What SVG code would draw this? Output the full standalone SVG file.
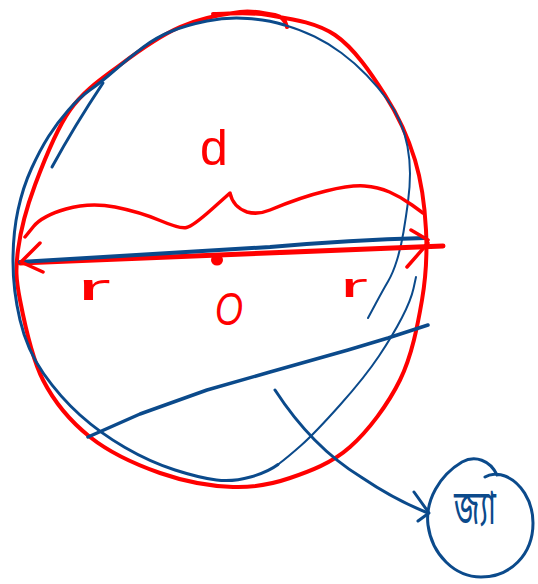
<svg xmlns="http://www.w3.org/2000/svg" width="538" height="584" viewBox="0 0 538 584">
<style>
.r{fill:none;stroke:#ff0000;stroke-linecap:round;stroke-linejoin:round}
.b{fill:none;stroke:#0b4a8b;stroke-linecap:round;stroke-linejoin:round}
.lbl{fill:#ff0000;font-family:"Liberation Sans",Arial,sans-serif}
.bn{fill:#0b4a8b;font-family:"Noto Sans Bengali","Noto Sans","DejaVu Sans",sans-serif}
</style>
<rect width="538" height="584" fill="#ffffff"/>
<g id="circle">
<path class="r" stroke-width="4" d="M213,14 C231,14 247.7,11.5 268,15 C288.3,18.5 315.5,21.7 335,35 C354.5,48.3 371.7,74.2 385,95 C398.3,115.8 408.2,137.5 415,160 C421.8,182.5 424.8,206.7 426,230 C427.2,253.3 426.3,275 422,300 C417.7,325 412,355.5 400,380 C388,404.5 368.3,430.7 350,447 C331.7,463.3 309.5,471.3 290,478 C270.5,484.7 254.7,487.8 233,487 C211.3,486.2 183.8,481.3 160,473 C136.2,464.7 109.5,452.5 90,437 C70.5,421.5 54.7,402.8 43,380 C31.3,357.2 24.2,321.7 20,300 C15.8,278.3 15.5,269.2 18,250 C20.5,230.8 26.3,208.3 35,185 C43.7,161.7 55.8,130 70,110 C84.2,90 101.7,78.8 120,65 C138.3,51.2 160,35.8 180,27 C200,18.2 224.2,14 240,12 C255.8,10 263.3,14 275,15 Q285,17 287,27"/>
<path class="b" stroke-width="2" d="M416,277 L413.5,288.5 Q411,300 402,317.5 Q393,335 379,356 Q365,377 340,405 Q315,433 301.5,445 Q288,457 278,464.5"/>
<path class="b" stroke-width="3" d="M278,464.5 Q268,472 250.5,477 Q233,482 216.5,480 Q200,478 175,470 Q150,462 125,447.5 Q100,433 80,415 Q60,397 43.5,373.5 Q27,350 20,320 Q13,290 13,261.5 Q13,233 18,210 Q23,187 31.5,168.5 Q40,150 48.5,136.5 Q57,123 68.5,110 Q80,97 90,90 Q100,83 115,70 Q130,57 143.5,47 Q157,37 172,31 Q187,25 207,21 Q227,17 247.5,18.5 Q268,20 284.5,25"/>
<path class="b" stroke-width="2" d="M284.5,25 Q301,30 314.5,36.5 Q328,43 341.5,53 Q355,63 366.5,75 Q378,87 386.5,98.5 Q395,110 400,121.5 Q405,133 407.5,146.5 Q410,160 410,173.5 Q410,187 408,202 Q406,217 403.5,232 Q401,247 397,260 Q393,273 388,281.5 Q383,290 375.5,304 L368,318"/>
<path class="b" stroke-width="3" d="M52,167 Q75,125 103,83"/>
<path class="r" stroke-width="3.5" d="M25,237 L33.5,226.5 Q42,216 66,209 Q90,202 115,207 Q140,212 160,220.5 Q180,229 186.5,227.5 Q193,226 211.5,209.5 L230,193 Q233,207 247,212 Q258,215 270,210 Q301,197 326,191 Q351,185 364.5,186 Q378,187 389.5,192 Q401,197 412,205 L423,213"/>
<path class="r" stroke-width="5" d="M20,263 L443,246"/>
<path class="b" stroke-width="4" d="M20,262 L270,247 Q350,240 425,238"/>
<path class="r" stroke-width="3.5" d="M40,243 L21,262 L43,272 M411,230 L428,240 M407,267 L428,243"/>
<ellipse cx="217" cy="260" rx="6" ry="5.5" fill="#ff0000"/>
<text class="lbl" x="200" y="165" font-size="50">d</text>
<text class="lbl" x="77" y="300" font-size="36" textLength="34" lengthAdjust="spacingAndGlyphs">r</text>
<text class="lbl" x="340" y="297" font-size="34" textLength="28" lengthAdjust="spacingAndGlyphs">r</text>
<text class="lbl" x="215" y="325" font-size="46" font-style="italic" textLength="28" lengthAdjust="spacingAndGlyphs">O</text>
</g>
<g id="chord">
<path class="b" stroke-width="3.5" d="M88,437 L140,414 L207,390 L270,372 L348,350 L388,338 L428,325"/>
</g>
<g id="chord-label">
<path class="b" stroke-width="3" d="M497,475 C490,460 475,455 462,462 C440,475 425,500 428,525 C432,555 455,577 481,577 C510,577 533,555 533,523 C533,500 520,482 505,476 C498,473 490,474 485,477"/>
<text class="bn" transform="translate(475,524) scale(1,1.6)" x="0" y="0" font-size="30" text-anchor="middle">জ্যা</text>
</g>
<g id="connectors">
<path class="b" stroke-width="3" d="M275,390 Q312,447 361,477 Q395,500 428,513"/>
<path class="b" stroke-width="3" d="M414,492 L429,513 L418,521"/>
</g>
</svg>
